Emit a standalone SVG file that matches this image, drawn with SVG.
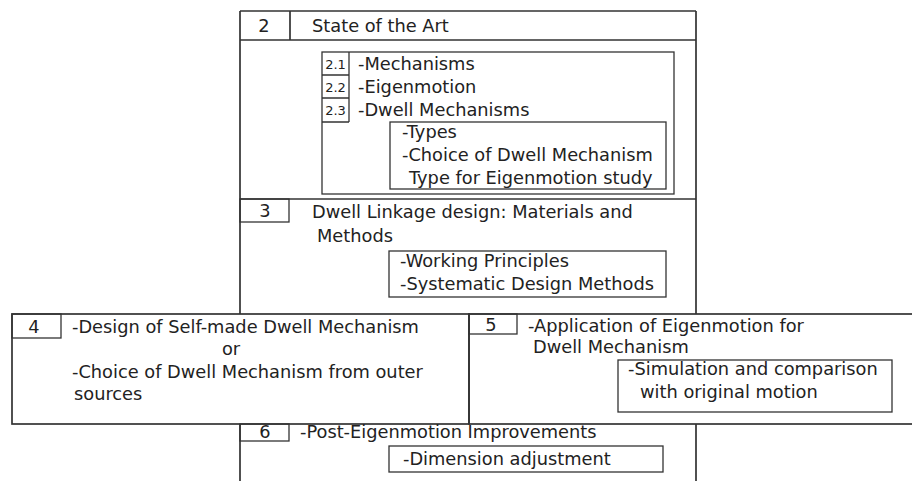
<svg xmlns="http://www.w3.org/2000/svg" width="912" height="481" viewBox="0 0 912 481">
<style>
text{font-family:"DejaVu Sans",Verdana,sans-serif;font-size:17.8px;fill:#222}
.n{text-anchor:middle}
.s{font-size:13px}
.m{fill:none;stroke:#333;stroke-width:1.7}
.b{fill:none;stroke:#333;stroke-width:1.3}
</style>
<rect width="912" height="481" fill="#fff"/>
<g id="connectors">
<path class="m" d="M240 11V314M696 11V314M240 424V481M696 424V481"/>
</g>
<g id="node2">
<path class="m" d="M240 11H696M240 40H696M290 11V40"/>
<text class="n" x="264" y="32">2</text>
<text x="312" y="32">State of the Art</text>
<rect class="b" x="322" y="52" width="352" height="142"/>
<path class="b" d="M322 75H349M322 98H349M322 122H349M349 52V122"/>
<text class="n s" x="335.5" y="69">2.1</text>
<text class="n s" x="335.5" y="92">2.2</text>
<text class="n s" x="335.5" y="115">2.3</text>
<text x="358" y="70">-Mechanisms</text>
<text x="358" y="93">-Eigenmotion</text>
<text x="358" y="116">-Dwell Mechanisms</text>
<rect class="b" x="390" y="122" width="276" height="67"/>
<text x="402" y="138">-Types</text>
<text x="402" y="161">-Choice of Dwell Mechanism</text>
<text x="409" y="184">Type for Eigenmotion study</text>
</g>
<g id="node3">
<path class="m" d="M240 199H696"/>
<rect class="b" x="240" y="199" width="49" height="23"/>
<text class="n" x="265" y="217">3</text>
<text x="312" y="218">Dwell Linkage design: Materials and</text>
<text x="317" y="242">Methods</text>
<rect class="b" x="389" y="251" width="277" height="46"/>
<text x="400" y="267">-Working Principles</text>
<text x="400" y="290">-Systematic Design Methods</text>
</g>
<g id="node4">
<rect class="m" x="12" y="314" width="457" height="110"/>
<rect class="b" x="12" y="314" width="49" height="24"/>
<text class="n" x="34" y="333">4</text>
<text x="72" y="333">-Design of Self-made Dwell Mechanism</text>
<text class="n" x="231" y="355">or</text>
<text x="72" y="378">-Choice of Dwell Mechanism from outer</text>
<text x="74" y="400">sources</text>
</g>
<g id="node5">
<rect class="m" x="469" y="314" width="446" height="110"/>
<rect class="b" x="469" y="314" width="48" height="20"/>
<text class="n" x="491" y="331">5</text>
<text x="528" y="332">-Application of Eigenmotion for</text>
<text x="533" y="353">Dwell Mechanism</text>
<rect class="b" x="618" y="360" width="274" height="52"/>
<text x="628" y="375">-Simulation and comparison</text>
<text x="640" y="398">with original motion</text>
</g>
<g id="node6">
<rect class="b" x="240" y="424" width="49" height="17"/>
<text class="n" x="265" y="438">6</text>
<text x="300" y="438">-Post-Eigenmotion Improvements</text>
<rect class="b" x="389" y="446" width="274" height="26"/>
<text x="403" y="465">-Dimension adjustment</text>
</g>
</svg>
